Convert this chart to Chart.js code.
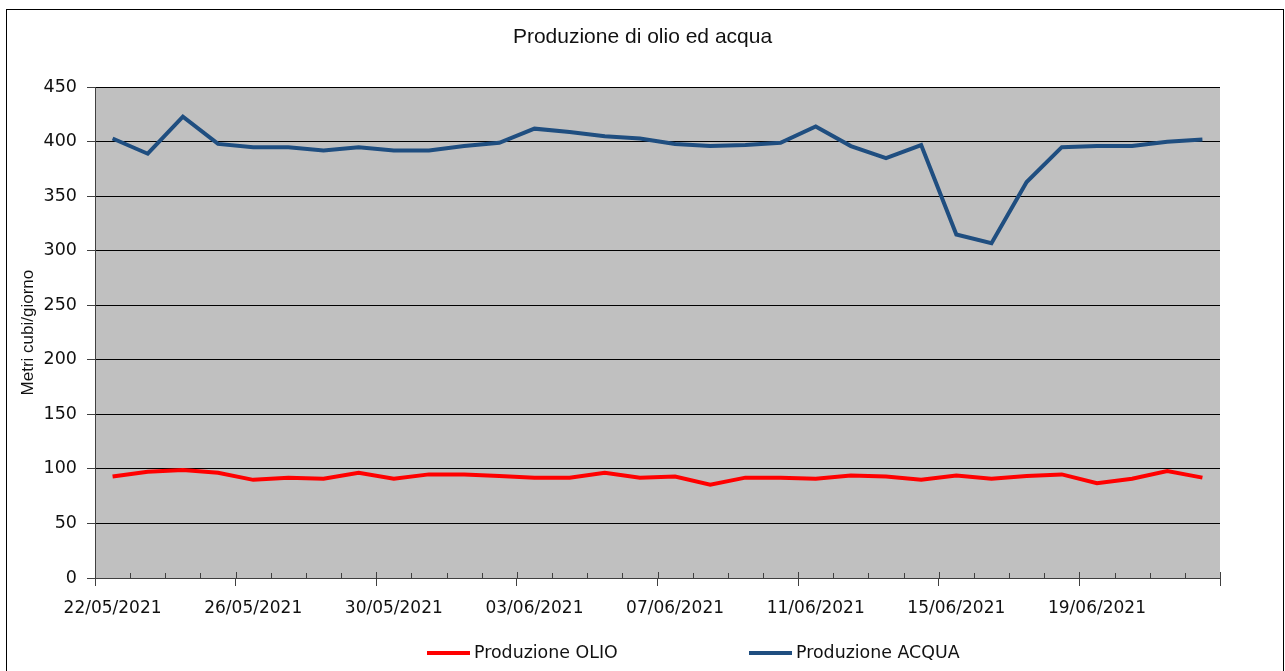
<!DOCTYPE html>
<html>
<head>
<meta charset="utf-8">
<script src="https://cdn.jsdelivr.net/npm/chart.js@4.4.1/dist/chart.umd.min.js"></script>
<style>
  html, body { margin: 0; padding: 0; background: #fff; }
  #wrap { width: 1285px; height: 671px; }
</style>
</head>
<body>
<div id="wrap"><canvas id="myChart" width="1285" height="671"></canvas></div>
<script>
// giorni (una categoria per giorno)
var dates = ['22/05/2021','23/05/2021','24/05/2021','25/05/2021','26/05/2021','27/05/2021','28/05/2021','29/05/2021',
  '30/05/2021','31/05/2021','01/06/2021','02/06/2021','03/06/2021','04/06/2021','05/06/2021','06/06/2021',
  '07/06/2021','08/06/2021','09/06/2021','10/06/2021','11/06/2021','12/06/2021','13/06/2021','14/06/2021',
  '15/06/2021','16/06/2021','17/06/2021','18/06/2021','19/06/2021','20/06/2021','21/06/2021','22/06/2021'];

// metri cubi / giorno
var olio = [93, 97.5, 99, 96.5, 90, 92, 91, 96.5, 91, 95, 95, 93.5, 92, 92, 96.5, 92,
  93, 85.5, 92, 92, 91, 94, 93, 90, 94, 91, 93.5, 95, 87, 91, 98, 92];
var acqua = [403, 389, 423, 398, 395, 395, 392, 395, 392, 392, 396, 399, 412, 409, 405, 403,
  398, 396, 397, 399, 414, 396, 385, 397, 315, 307, 363, 395, 396, 396, 400, 402];

var yMin = 0, yMax = 450, yStep = 50;
var labelEvery = 4;

var tickFont = { family: 'DejaVu Sans', size: 17 };
var textColor = '#111';
var axisColor = '#404040';

// sfondo grigio dell'area del grafico + cornice esterna
var bgPlugin = {
  id: 'bg',
  beforeDraw: function(chart) {
    var c = chart.ctx, a = chart.chartArea;
    c.save();
    c.fillStyle = '#c0c0c0';
    c.fillRect(a.left, a.top, a.right - a.left, a.bottom - a.top);
    c.strokeStyle = '#000';
    c.lineWidth = 1;
    c.strokeRect(6.5, 9.5, 1277, 700);
    c.restore();
  }
};

// tacche interne sull'asse x (ogni giorno)
var innerTicks = {
  id: 'innerTicks',
  afterDraw: function(chart) {
    var sx = chart.scales.x, c = chart.ctx, a = chart.chartArea;
    var half = (sx.getPixelForValue(1) - sx.getPixelForValue(0)) / 2;
    c.save();
    c.strokeStyle = axisColor;
    c.lineWidth = 1;
    for (var i = 0; i <= dates.length; i++) {
      var px = Math.round(sx.getPixelForValue(i) - half) + 0.5;
      var len = (i % labelEvery === 0) ? 6 : 5;
      c.beginPath();
      c.moveTo(px, a.bottom);
      c.lineTo(px, a.bottom - len);
      c.stroke();
    }
    c.restore();
  }
};

// legenda in basso
var legendPlugin = {
  id: 'myLegend',
  afterDraw: function(chart) {
    var c = chart.ctx;
    var starts = [427, 749];
    var y = 653;
    c.save();
    c.font = '17.4px "DejaVu Sans"';
    c.textBaseline = 'middle';
    chart.data.datasets.forEach(function(ds, k) {
      var x0 = starts[k];
      c.strokeStyle = ds.borderColor;
      c.lineWidth = 4;
      c.beginPath();
      c.moveTo(x0, y);
      c.lineTo(x0 + 43, y);
      c.stroke();
      c.fillStyle = textColor;
      c.fillText(ds.label, x0 + 47, y);
    });
    c.restore();
  }
};

var ctx = document.getElementById('myChart').getContext('2d');
var myLineChart = new Chart(ctx, {
  type: 'line',
  data: {
    labels: dates,
    datasets: [{
      label: 'Produzione OLIO',
      data: olio,
      borderColor: '#ff0000',
      backgroundColor: '#ff0000',
      borderWidth: 4,
      pointRadius: 0,
      tension: 0
    }, {
      label: 'Produzione ACQUA',
      data: acqua,
      borderColor: '#1f4e80',
      backgroundColor: '#1f4e80',
      borderWidth: 4,
      pointRadius: 0,
      tension: 0
    }]
  },
  options: {
    responsive: false,
    animation: false,
    layout: { padding: { left: 0, right: 0, top: 0, bottom: 0 } },
    plugins: {
      legend: { display: false },
      tooltip: { enabled: false },
      title: {
        display: true,
        text: 'Produzione di olio ed acqua',
        font: { family: 'Liberation Sans', size: 21, weight: 'normal' },
        color: textColor,
        padding: { top: 25, bottom: 37 }
      }
    },
    scales: {
      x: {
        type: 'category',
        offset: true,
        grid: {
          offset: true,
          drawOnChartArea: false,
          tickLength: 8,
          tickColor: function(c) {
            return (c.index === undefined || c.index % labelEvery === 0) ? axisColor : 'rgba(0,0,0,0)';
          }
        },
        border: { color: axisColor },
        ticks: {
          autoSkip: false,
          maxRotation: 0,
          minRotation: 0,
          padding: 12,
          font: tickFont,
          color: textColor,
          callback: function(v, i) {
            return i % labelEvery === 0 ? this.getLabelForValue(v) : '';
          }
        },
        afterFit: function(s) { s.height = 93; }
      },
      y: {
        min: yMin,
        max: yMax,
        ticks: { stepSize: yStep, padding: 10, font: { family: 'DejaVu Sans', size: 17.5 }, color: textColor },
        grid: { color: '#000', tickColor: axisColor, tickLength: 8 },
        border: { color: axisColor },
        title: {
          display: true,
          text: 'Metri cubi/giorno',
          font: { family: 'Liberation Sans', size: 17 },
          color: textColor,
          padding: { top: 18, bottom: 0 }
        },
        afterFit: function(s) { s.width = 95; }
      },
      yRight: {
        position: 'right',
        display: true,
        ticks: { display: false },
        grid: { display: false },
        border: { display: false },
        afterFit: function(s) { s.width = 65; }
      }
    }
  },
  plugins: [bgPlugin, innerTicks, legendPlugin]
});
</script>
</body>
</html>
